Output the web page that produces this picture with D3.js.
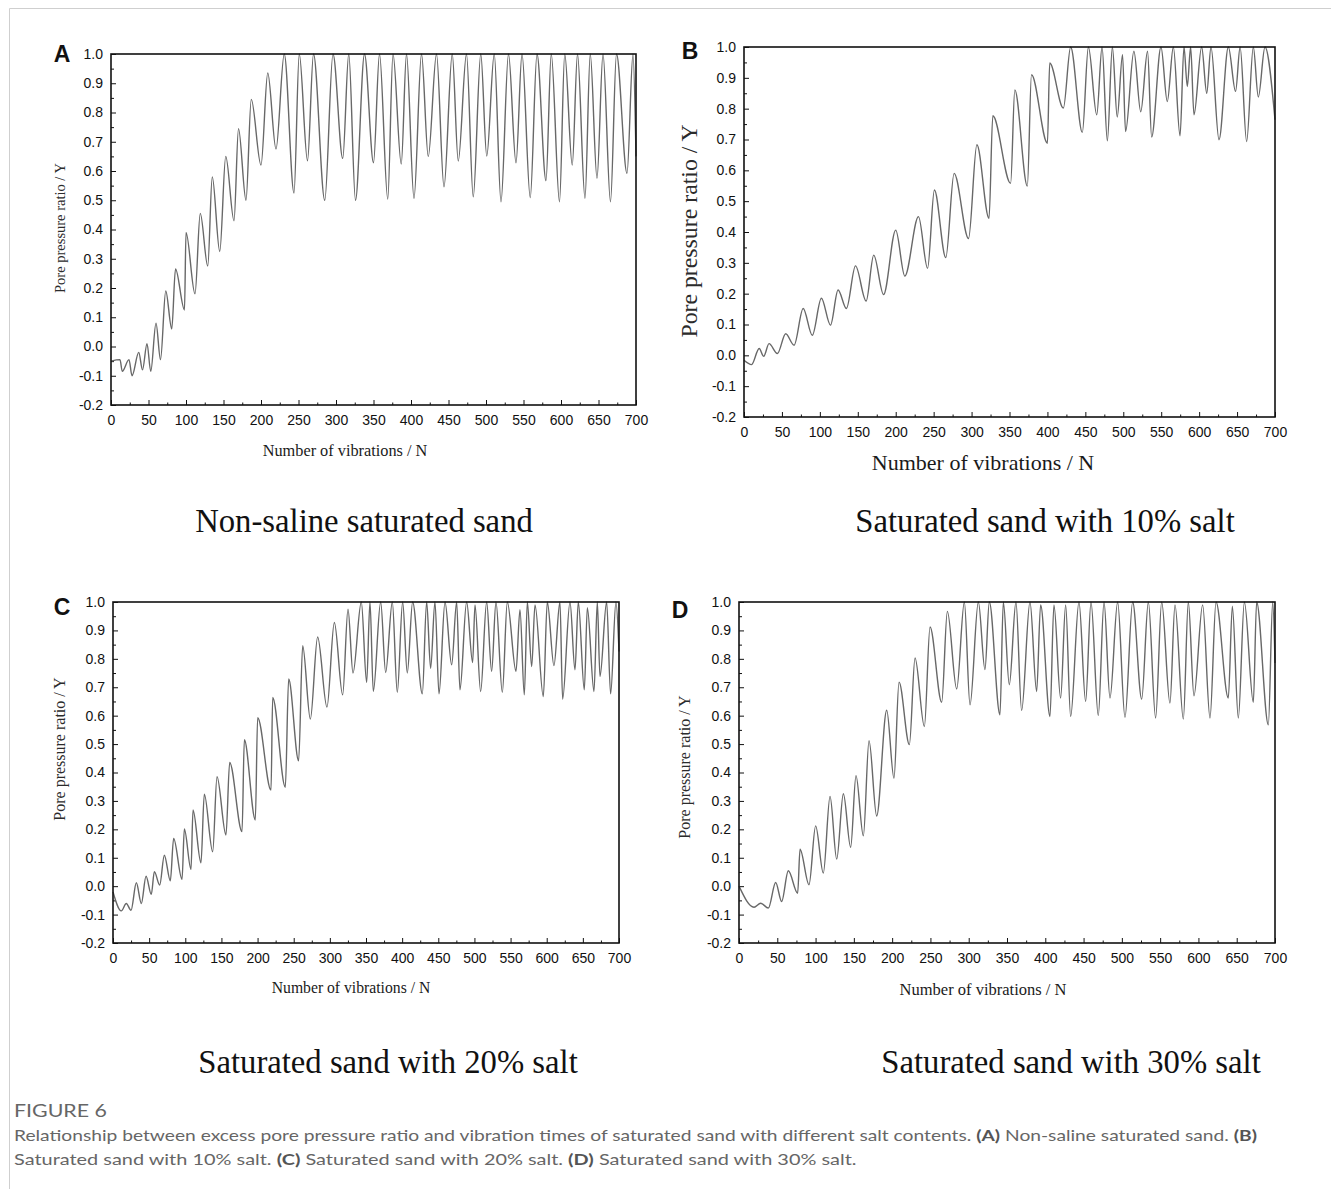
<!DOCTYPE html>
<html>
<head>
<meta charset="utf-8">
<script src="https://cdn.jsdelivr.net/npm/d3@7"></script>
<style>
  html, body { margin: 0; padding: 0; background: #ffffff; }
  svg { display: block; }
</style>
</head>
<body>
<svg id="fig" width="1331" height="1189"></svg>
<script>
// Excess pore pressure ratio (Y) against number of vibrations (N).
// Each series is the sequence of turning points of the recorded curve: [N, Y].
const seriesA = [
  [0,-0.05],[12,-0.045],[15,-0.085],[24,-0.045],[28,-0.1],[37,-0.02],[42,-0.08],[48,0.01],
  [53,-0.085],[60,0.08],[66,-0.045],[73,0.19],[81,0.06],[86,0.265],[98,0.125],[100,0.39],
  [112,0.18],[119,0.455],[129,0.275],[135,0.58],[145,0.325],[153,0.65],[164,0.43],[170,0.745],
  [180,0.5],[187,0.845],[200,0.62],[209,0.935],[220,0.675],[231,1.0],[244,0.525],[251,1.0],
  [262,0.635],[270,1.0],[285,0.5],[296,1.0],[309,0.643],[317,1.0],[326,0.5],[338,1.0],
  [350,0.628],[358,1.0],[369,0.504],[376,1.0],[387,0.624],[394,1.0],[404,0.507],[414,1.0],
  [423,0.649],[434,1.0],[444,0.546],[455,1.0],[463,0.634],[474,1.0],[483,0.512],[493,1.0],
  [501,0.651],[511,1.0],[520,0.495],[530,1.0],[540,0.628],[548,1.0],[559,0.509],[568,1.0],
  [580,0.567],[587,1.0],[598,0.495],[605,1.0],[615,0.62],[622,1.0],[632,0.507],[639,1.0],
  [648,0.575],[656,1.0],[666,0.495],[674,1.0],[688,0.592],[696,1.0],[700,0.65]
];

const seriesB = [
  [0,-0.016],[10,-0.03],[20,0.022],[26,-0.003],[33,0.038],[44,0.006],[55,0.07],[66,0.033],
  [78,0.152],[90,0.065],[102,0.185],[114,0.098],[124,0.212],[135,0.152],[147,0.29],[161,0.176],
  [171,0.325],[184,0.197],[200,0.406],[212,0.257],[230,0.45],[242,0.282],[251,0.536],[266,0.317],
  [277,0.59],[296,0.379],[307,0.683],[323,0.444],[328,0.777],[351.5,0.558],[357,0.861],[373.5,0.549],
  [379,0.91],[400,0.688],[403,0.948],[421,0.802],[430.6,1.0],[446,0.723],[454,1.0],[465,0.78],
  [472,1.0],[479,0.696],[485.6,1.0],[492,0.773],[499,0.975],[503,0.726],[514,0.986],[523,0.79],
  [532,0.986],[537.4,0.708],[549.7,1.0],[558,0.823],[566,1.0],[574.8,0.712],[580,1.0],[584.4,0.872],
  [588.8,1.0],[593.2,0.78],[603.3,1.0],[610,0.85],[615.6,1.0],[626.2,0.699],[638.5,1.0],[648,0.856],
  [654,1.0],[662.6,0.693],[671.4,1.0],[678,0.838],[686.8,1.0],[700,0.764]
];

const seriesC = [
  [0,-0.02],[11.5,-0.087],[18.4,-0.061],[24.9,-0.085],[32.3,0.012],[39.2,-0.061],[45.7,0.035],
  [53,-0.029],[57.2,0.051],[64.6,0.004],[71,0.109],[79.3,0.019],[83.9,0.168],[95.5,0.024],
  [98.7,0.201],[107.9,0.059],[110.7,0.268],[121.7,0.082],[126.3,0.324],[137.9,0.121],[143.9,0.385],
  [156.3,0.18],[161.4,0.435],[178.5,0.192],[181.7,0.515],[196.9,0.233],[200.1,0.593],[218.6,0.338],
  [220.9,0.664],[238.4,0.348],[243,0.729],[256.8,0.441],[262.4,0.846],[273,0.588],[283.1,0.877],
  [296,0.63],[306.2,0.928],[317.7,0.673],[325.1,0.975],[332,0.75],[343.5,1.0],[350.9,0.717],
  [355.5,1.0],[360.1,0.685],[370.3,1.0],[377.2,0.752],[386.4,1.0],[393.3,0.682],[400.7,1.0],
  [407.1,0.75],[414.5,1.0],[427.9,0.677],[433.9,1.0],[439.4,0.767],[445.4,1.0],[451,0.677],
  [459.3,1.0],[468.5,0.779],[475.4,1.0],[480,0.691],[489.2,1.0],[497.5,0.787],[500.8,0.99],
  [508.6,0.685],[516.9,1.0],[523.8,0.756],[529.8,1.0],[538.6,0.682],[545.5,1.0],[557.5,0.756],
  [563,0.973],[569,0.673],[573.2,1.0],[579.2,0.773],[583.8,0.99],[595.3,0.667],[600.8,1.0],
  [610,0.776],[618.3,1.0],[622,0.658],[632.2,1.0],[639.1,0.761],[643.7,1.0],[652,0.691],
  [656.2,0.98],[665.4,0.685],[670,1.0],[673.7,0.738],[682.9,1.0],[688.4,0.677],[695.8,1.0],[700,0.826]
];

const seriesD = [
  [0,0.0],[19.6,-0.074],[28.3,-0.06],[38.3,-0.077],[47.9,0.013],[55.7,-0.054],[64.4,0.054],
  [76.6,-0.025],[79.7,0.13],[91.4,0.005],[100.1,0.212],[110.1,0.046],[118.9,0.316],[127.6,0.095],
  [136.3,0.325],[145.8,0.137],[152.8,0.389],[162.4,0.177],[169.8,0.512],[179.8,0.247],[192.9,0.619],
  [202.4,0.38],[209,0.718],[222.5,0.498],[229.9,0.803],[242.1,0.562],[249.5,0.912],[264.7,0.647],
  [272.1,0.967],[284.3,0.694],[294.3,1.0],[301.7,0.638],[312.6,1.0],[321.2,0.762],[326.9,1.0],
  [340.8,0.603],[345.2,1.0],[353,0.709],[361.7,1.0],[369.1,0.618],[380,1.0],[388.7,0.685],
  [393.9,0.99],[406.1,0.597],[411.3,0.99],[420,0.662],[426.6,0.99],[433.1,0.597],[444,1.0],
  [452.7,0.65],[459.7,1.0],[469.2,0.6],[476.7,1.0],[484.5,0.662],[494.5,1.0],[504.1,0.594],
  [514.1,1.0],[525.9,0.658],[534.6,1.0],[544.1,0.592],[552,1.0],[562.8,0.644],[569.4,0.99],
  [580.3,0.588],[586.8,1.0],[594.2,0.67],[605.5,0.99],[615.1,0.592],[623,1.0],[639,0.662],
  [644.3,0.985],[652.1,0.592],[660,1.0],[671.7,0.647],[676,1.0],[691.3,0.568],[697,1.0],[700,0.785]
];

// Axis ticks
const xTickValues  = [0,50,100,150,200,250,300,350,400,450,500,550,600,650,700];
const xMinorValues = [25,75,125,175,225,275,325,375,425,475,525,575,625,675];
const yTickValues  = [-0.2,-0.1,0.0,0.1,0.2,0.3,0.4,0.5,0.6,0.7,0.8,0.9,1.0];
const yMinorValues = [-0.15,-0.05,0.05,0.15,0.25,0.35,0.45,0.55,0.65,0.75,0.85,0.95];

// Panel text
const panelLetters = ["A","B","C","D"];
const panelTitles = [
  "Non-saline saturated sand",
  "Saturated sand with 10% salt",
  "Saturated sand with 20% salt",
  "Saturated sand with 30% salt"
];
const xAxisTitle = "Number of vibrations / N";
const yAxisTitle = "Pore pressure ratio / Y";

// Panel geometry and type sizes
const layout = [
  { data: seriesA, left: 111, top: 54,  right: 636,  bottom: 405, letterX: 62,  letterY: 62,
    yTitleX: 65,  yTitleY: 228, yTitleFs: 14.5, xTitleX: 345, xTitleY: 456, xTitleFs: 16.3,
    titleX: 364,  titleY: 532 },
  { data: seriesB, left: 744, top: 47,  right: 1275, bottom: 417, letterX: 690, letterY: 59,
    yTitleX: 697, yTitleY: 231, yTitleFs: 23.8, xTitleX: 983, xTitleY: 470, xTitleFs: 22,
    titleX: 1045, titleY: 532 },
  { data: seriesC, left: 113, top: 602, right: 619,  bottom: 943, letterX: 62,  letterY: 615,
    yTitleX: 65,  yTitleY: 749, yTitleFs: 16, xTitleX: 351, xTitleY: 993, xTitleFs: 15.7,
    titleX: 388,  titleY: 1073 },
  { data: seriesD, left: 739, top: 602, right: 1275, bottom: 943, letterX: 680, letterY: 618,
    yTitleX: 690, yTitleY: 767, yTitleFs: 16, xTitleX: 983, xTitleY: 995, xTitleFs: 16.5,
    titleX: 1071, titleY: 1073 }
];

const svg = d3.select("#fig");

// Light page frame
svg.append("line").attr("x1", 9.5).attr("y1", 8.5).attr("x2", 1331).attr("y2", 8.5)
  .attr("stroke", "#cfcfcf").attr("stroke-width", 1);
svg.append("line").attr("x1", 9.5).attr("y1", 8.5).attr("x2", 9.5).attr("y2", 1189)
  .attr("stroke", "#cfcfcf").attr("stroke-width", 1);

const fmtY = v => (Math.abs(v) < 1e-9 ? 0 : v).toFixed(1);

function styleAxis(sel) {
  sel.select(".domain").remove();
  sel.selectAll(".tick line").attr("stroke", "#111").attr("stroke-width", 1);
  sel.selectAll(".tick text")
    .attr("fill", "#111")
    .style("font-family", "'Liberation Sans', Arial, sans-serif")
    .style("font-size", "14px");
}

layout.forEach((p, i) => {
  const x = d3.scaleLinear().domain([0, 700]).range([p.left, p.right]);
  const y = d3.scaleLinear().domain([-0.2, 1.0]).range([p.bottom, p.top]);
  const g = svg.append("g");

  // bottom axis: major + minor inward ticks
  g.append("g").attr("transform", `translate(0,${p.bottom})`)
    .call(d3.axisBottom(x).tickValues(xTickValues).tickFormat(d => d)
      .tickSizeInner(-5).tickSizeOuter(0).tickPadding(10))
    .call(styleAxis);
  g.append("g").attr("transform", `translate(0,${p.bottom})`)
    .call(d3.axisBottom(x).tickValues(xMinorValues).tickFormat("")
      .tickSizeInner(-2.5).tickSizeOuter(0))
    .call(styleAxis);

  // left axis: major + minor inward ticks
  g.append("g").attr("transform", `translate(${p.left},0)`)
    .call(d3.axisLeft(y).tickValues(yTickValues).tickFormat(fmtY)
      .tickSizeInner(-5).tickSizeOuter(0).tickPadding(8))
    .call(styleAxis);
  g.append("g").attr("transform", `translate(${p.left},0)`)
    .call(d3.axisLeft(y).tickValues(yMinorValues).tickFormat("")
      .tickSizeInner(-3).tickSizeOuter(0))
    .call(styleAxis);

  // the measured curve
  const line = d3.line()
    .x(d => x(d[0]))
    .y(d => y(d[1]))
    .curve(d3.curveMonotoneX);
  g.append("path").datum(p.data)
    .attr("d", line)
    .attr("fill", "none")
    .attr("stroke", "#686868")
    .attr("stroke-width", 1.4)
    .attr("stroke-linejoin", "round");

  // plot frame
  g.append("rect")
    .attr("x", p.left).attr("y", p.top)
    .attr("width", p.right - p.left).attr("height", p.bottom - p.top)
    .attr("fill", "none").attr("stroke", "#111").attr("stroke-width", 1.6);

  // panel letter
  g.append("text").attr("x", p.letterX).attr("y", p.letterY)
    .attr("text-anchor", "middle")
    .style("font-family", "'Liberation Sans', Arial, sans-serif")
    .style("font-weight", "bold").style("font-size", "23px")
    .attr("fill", "#111").text(panelLetters[i]);

  // axis titles
  g.append("text")
    .attr("transform", `translate(${p.yTitleX},${p.yTitleY}) rotate(-90)`)
    .attr("text-anchor", "middle")
    .style("font-family", "'Liberation Serif', 'Times New Roman', serif")
    .style("font-size", p.yTitleFs + "px")
    .attr("fill", "#2b2b2b").text(yAxisTitle);
  g.append("text")
    .attr("x", p.xTitleX).attr("y", p.xTitleY)
    .attr("text-anchor", "middle")
    .style("font-family", "'Liberation Serif', 'Times New Roman', serif")
    .style("font-size", p.xTitleFs + "px")
    .attr("fill", "#1a1a1a").text(xAxisTitle);

  // panel caption under each chart
  g.append("text")
    .attr("x", p.titleX).attr("y", p.titleY)
    .attr("text-anchor", "middle")
    .style("font-family", "'Liberation Serif', 'Times New Roman', serif")
    .style("font-size", "32.7px")
    .attr("fill", "#111").text(panelTitles[i]);
});

// Figure caption
const capFont = "Lato, 'Open Sans', sans-serif";
const capColor = "#666666";
const capHead = svg.append("text")
  .style("font-family", capFont).style("font-size", "16.5px")
  .attr("fill", capColor).text("FIGURE 6");

const capLines = [
  [["Relationship between excess pore pressure ratio and vibration times of saturated sand with different salt contents. ", false],
   ["(A)", true], [" Non-saline saturated sand. ", false], ["(B)", true]],
  [["Saturated sand with 10% salt. ", false], ["(C)", true], [" Saturated sand with 20% salt. ", false],
   ["(D)", true], [" Saturated sand with 30% salt.", false]]
];
const capWidths = [1244, 843];
const capTexts = capLines.map((parts, k) => {
  const t = svg.append("text")
    .style("font-family", capFont).style("font-size", "15.5px")
    .attr("fill", capColor);
  parts.forEach(([s, b]) => {
    t.append("tspan").style("font-weight", b ? "bold" : "normal")
      .attr("fill", b ? "#555" : capColor).text(s);
  });
  return t;
});
// fit each caption line to its printed width
capTexts.forEach((t, k) => {
  const s = capWidths[k] / t.node().getComputedTextLength();
  t.attr("transform", `translate(14,${1141 + k * 24}) scale(${s},1)`);
});
const sh = 93 / capHead.node().getComputedTextLength();
capHead.attr("transform", `translate(14,1117) scale(${sh},1)`);
</script>
</body>
</html>
